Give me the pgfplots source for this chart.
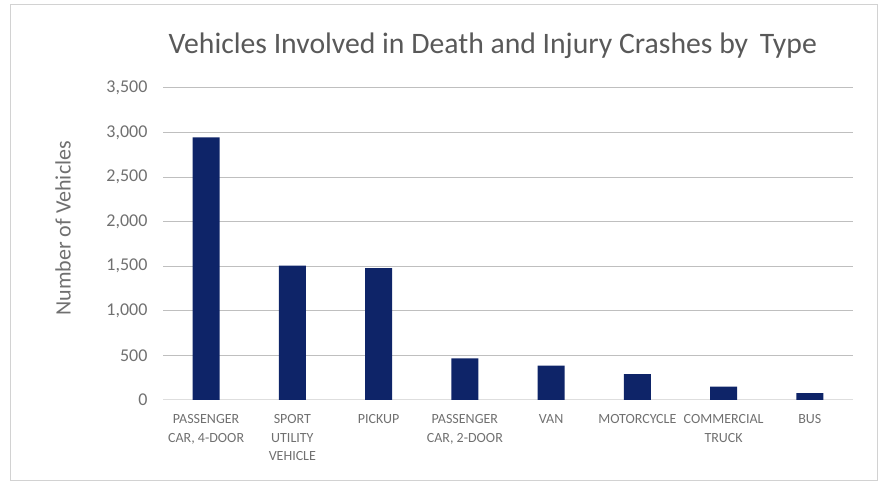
\documentclass[border=0pt]{standalone}
\usepackage{pgfplots}
\pgfplotsset{compat=1.18}
\usepackage{fontspec}
\setmainfont{Carlito}
\definecolor{txt}{RGB}{89,89,89}
\definecolor{lbl}{RGB}{112,112,112}
\definecolor{navy}{RGB}{14,36,104}
\definecolor{grid}{RGB}{222,222,222}
\begin{document}
\begin{tikzpicture}[x=1pt,y=1pt]
\path[use as bounding box] (0,0) rectangle (886,486);
\draw[gray!35, line width=1pt] (10,5) rectangle (877,481);
\begin{axis}[
  at={(163pt,86pt)}, anchor=south west,
  scale only axis, width=690pt, height=312pt,
  ybar, bar width=27pt, bar shift=0pt,
  xmin=-0.5, xmax=7.5, ymin=0, ymax=3500,
  ytick={0,500,...,3500},
  xtick={0,1,2,3,4,5,6,7},
  xticklabels={{PASSENGER\\CAR, 4-DOOR},{SPORT\\UTILITY\\VEHICLE},PICKUP,{PASSENGER\\CAR, 2-DOOR},VAN,MOTORCYCLE,{COMMERCIAL\\TRUCK},BUS},
  xticklabel style={align=center, font=\fontsize{14}{18.5}\selectfont, text=lbl, yshift=-11pt},
  yticklabel style={font=\fontsize{18}{20}\selectfont, text=lbl, xshift=-12pt},
  /pgf/number format/assume math mode=true,
  /pgf/number format/1000 sep={,},
  scaled y ticks=false,
  xmajorgrids=false, ymajorgrids=true, grid style={grid, line width=1pt},
  axis lines*=left,
  x axis line style={grid, line width=1pt, -},
  y axis line style={draw=none},
  major tick length=0pt,
  title={Vehicles Involved in Death and Injury Crashes by\, Type},
  title style={font=\fontsize{29.7}{31}\selectfont, text=txt, at={(axis description cs:0.478,1)}, anchor=south, yshift=20pt},
  ylabel={Number of Vehicles},
  ylabel style={font=\fontsize{22}{24}\selectfont, text=lbl, at={(axis description cs:-0.145,0.55)}, anchor=center},
]
\addplot[fill=navy, draw=none] coordinates {(0,2945) (1,1508) (2,1480) (3,468) (4,385) (5,289) (6,150) (7,78)};
\end{axis}
\end{tikzpicture}
\end{document}
